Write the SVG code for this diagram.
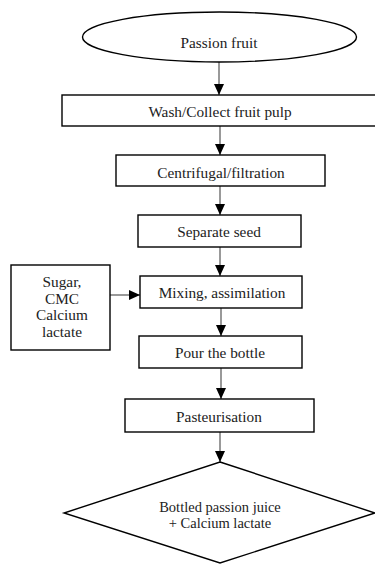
<svg xmlns="http://www.w3.org/2000/svg" width="375" height="564" viewBox="0 0 375 564">
<style>
.n{fill:#fff;stroke:#000;stroke-width:1.4}
.t{font-family:'Liberation Serif','DejaVu Serif','Tinos',Times,serif;font-size:15.3px;fill:#222;text-anchor:middle}
.s{font-size:14.5px}
.c{stroke:#555;stroke-width:1.2;fill:none;marker-end:url(#ah)}
</style>
<defs>
<marker id="ah" markerUnits="userSpaceOnUse" markerWidth="11" markerHeight="10" refX="11" refY="5" orient="auto">
<path d="M0,0 L11,5 L0,10 Z" fill="#000"/>
</marker>
</defs>
<rect width="375" height="564" fill="#fff"/>
<g id="connectors">
<line class="c" x1="219" y1="62" x2="219" y2="95"/>
<line class="c" x1="220" y1="126" x2="220" y2="155"/>
<line class="c" x1="220" y1="186" x2="220" y2="215"/>
<line class="c" x1="220" y1="247" x2="220" y2="276"/>
<line class="c" x1="110" y1="295" x2="140" y2="295"/>
<line class="c" x1="221" y1="308" x2="221" y2="336"/>
<line class="c" x1="221" y1="368" x2="221" y2="399"/>
<line class="c" x1="220" y1="432" x2="220" y2="462"/>
</g>
<g id="passion-fruit">
<ellipse class="n" cx="219.5" cy="37" rx="137" ry="25"/>
<text class="t" x="219" y="48" font-family="Liberation Serif">Passion fruit</text>
</g>
<g id="wash">
<rect class="n" x="62" y="95" width="314" height="31"/>
<text class="t" x="220" y="117">Wash/Collect fruit pulp</text>
</g>
<g id="centrifugal">
<rect class="n" x="116" y="155" width="209" height="31"/>
<text class="t" x="221" y="178">Centrifugal/filtration</text>
</g>
<g id="separate">
<rect class="n" x="138" y="215" width="163" height="32"/>
<text class="t" x="219" y="237">Separate seed</text>
</g>
<g id="additives">
<rect class="n" x="11" y="265" width="99" height="85"/>
<text class="t" x="62" y="287">Sugar,</text>
<text class="t" x="62" y="303.5">CMC</text>
<text class="t" x="62" y="320">Calcium</text>
<text class="t" x="62" y="337">lactate</text>
</g>
<g id="mixing">
<rect class="n" x="140" y="276" width="162" height="32"/>
<text class="t" x="222" y="298">Mixing, assimilation</text>
</g>
<g id="pour">
<rect class="n" x="139" y="336" width="163" height="32"/>
<text class="t" x="220" y="358">Pour the bottle</text>
</g>
<g id="pasteurisation">
<rect class="n" x="125" y="399" width="189" height="33"/>
<text class="t" x="219" y="422">Pasteurisation</text>
</g>
<g id="bottled">
<polygon class="n" points="220,462 375,513 220,563 64,513"/>
<text class="t s" x="220" y="512">Bottled passion juice</text>
<text class="t s" x="220" y="528">+ Calcium lactate</text>
</g>
</svg>
